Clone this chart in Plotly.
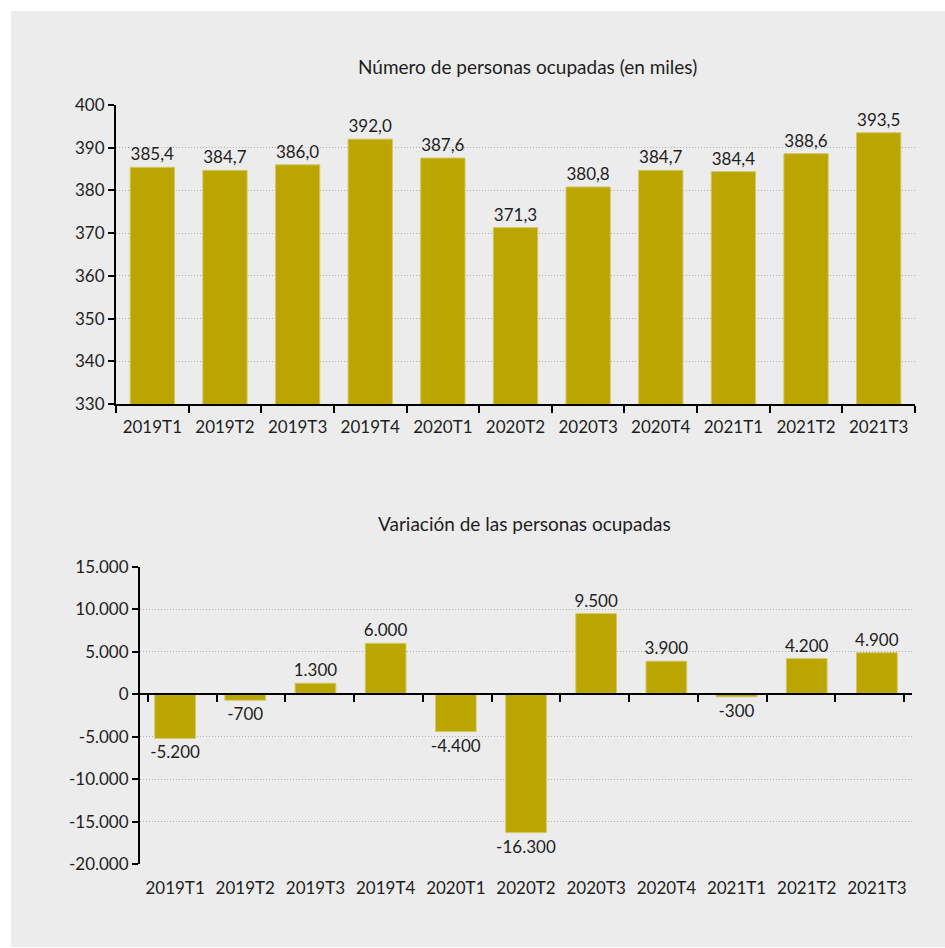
import plotly.graph_objects as go

# Quarterly data
quarters = ["2019T1", "2019T2", "2019T3", "2019T4", "2020T1", "2020T2",
            "2020T3", "2020T4", "2021T1", "2021T2", "2021T3"]
employed_thousands = [385.4, 384.7, 386.0, 392.0, 387.6, 371.3,
                      380.8, 384.7, 384.4, 388.6, 393.5]
employed_change = [-5200, -700, 1300, 6000, -4400, -16300,
                   9500, 3900, -300, 4200, 4900]

top_ticks = [330, 340, 350, 360, 370, 380, 390, 400]
bottom_ticks = [-20000, -15000, -10000, -5000, 0, 5000, 10000, 15000]

title_top = "Número de personas ocupadas (en miles)"
title_bottom = "Variación de las personas ocupadas"

BAR = "#bba500"
BAR_EDGE = "#d3c766"
BG = "#ececec"
INK = "#1e1e1e"
GRID = "#b0b0b0"
FONT = "Lato"

W, H = 945, 948


def es_decimal(v):
    return f"{v:.1f}".replace(".", ",")


def es_thousands(v):
    return f"{v:,.0f}".replace(",", ".")


def px_x(p):
    return p / W


def px_y(p):
    return 1 - p / H


top_dom_x = [px_x(116), px_x(915)]
top_dom_y = [px_y(404), px_y(105)]
bot_dom_x = [px_x(140), px_x(912)]
bot_dom_y = [px_y(864), px_y(567)]

bot_range = [-20000, 15000]
zero_pos = bot_dom_y[0] + (0 - bot_range[0]) / (bot_range[1] - bot_range[0]) * (bot_dom_y[1] - bot_dom_y[0])

label_font = dict(family=FONT, size=17, color=INK)
tick_font = dict(family=FONT, size=17, color=INK)
title_font = dict(family=FONT, size=19, color=INK)

fig = go.Figure()

fig.add_trace(go.Bar(
    x=quarters, y=employed_thousands, xaxis="x", yaxis="y",
    width=0.61, marker=dict(color=BAR, line=dict(color=BAR_EDGE, width=1)),
    text=[es_decimal(v) for v in employed_thousands],
    textposition="outside", cliponaxis=False, constraintext="none",
    textfont=label_font,
    hoverinfo="skip", showlegend=False,
))

fig.add_trace(go.Bar(
    x=quarters, y=employed_change, xaxis="x2", yaxis="y2",
    width=0.58, marker=dict(color=BAR, line=dict(color=BAR_EDGE, width=1)),
    text=[es_thousands(v) for v in employed_change],
    textposition="outside", cliponaxis=False, constraintext="none",
    textfont=label_font,
    hoverinfo="skip", showlegend=False,
))

# invisible helper so the zero-level category axis gets its ticks
fig.add_trace(go.Scatter(
    x=quarters, y=employed_change, xaxis="x3", yaxis="y2",
    mode="markers", marker=dict(opacity=0), hoverinfo="skip", showlegend=False,
))

grid = dict(showgrid=True, gridcolor=GRID, gridwidth=1, griddash="1px,2px")

fig.update_layout(
    width=W, height=H,
    margin=dict(l=0, r=0, t=0, b=0, pad=0),
    paper_bgcolor="white",
    plot_bgcolor="rgba(0,0,0,0)",
    font=dict(family=FONT, color=INK),
    xaxis=dict(
        domain=top_dom_x, anchor="y", type="category", automargin=False,
        showline=True, linecolor="black", linewidth=2,
        ticks="outside", tickson="boundaries", ticklen=7, tickwidth=2, tickcolor="black",
        ticklabelstandoff=7,
        tickfont=tick_font, showgrid=False,
    ),
    yaxis=dict(
        domain=top_dom_y, anchor="x", range=[330, 400], automargin=False,
        tickvals=top_ticks, ticktext=[str(v) for v in top_ticks],
        showline=True, linecolor="black", linewidth=2,
        ticks="outside", ticklen=6, tickwidth=2, tickcolor="black",
        tickfont=tick_font, zeroline=False, **grid,
    ),
    xaxis2=dict(
        domain=bot_dom_x, anchor="y2", type="category", automargin=False,
        showline=False, ticks="outside", ticklen=7, tickcolor="rgba(0,0,0,0)",
        ticklabelstandoff=2,
        tickfont=tick_font, showgrid=False,
    ),
    xaxis3=dict(
        domain=bot_dom_x, overlaying="x2", anchor="free", position=zero_pos,
        type="category", side="bottom", automargin=False,
        showline=True, linecolor="black", linewidth=2,
        ticks="outside", tickson="boundaries", ticklen=7, tickwidth=2, tickcolor="black",
        showticklabels=False, showgrid=False,
    ),
    yaxis2=dict(
        domain=bot_dom_y, anchor="x2", range=bot_range, automargin=False,
        tickvals=bottom_ticks, ticktext=[es_thousands(v) for v in bottom_ticks],
        showline=True, linecolor="black", linewidth=2,
        ticks="outside", ticklen=6, tickwidth=2, tickcolor="black",
        tickfont=tick_font, zeroline=False, **grid,
    ),
    shapes=[dict(
        type="rect", xref="paper", yref="paper",
        x0=px_x(11), x1=1, y0=px_y(947), y1=px_y(11),
        fillcolor=BG, line=dict(width=0), layer="below",
    )],
    annotations=[
        dict(text=title_top, xref="paper", yref="paper",
             x=px_x(527), y=px_y(67), xanchor="center", yanchor="middle",
             showarrow=False, font=title_font),
        dict(text=title_bottom, xref="paper", yref="paper",
             x=px_x(524), y=px_y(523), xanchor="center", yanchor="middle",
             showarrow=False, font=title_font),
    ],
)

fig.write_html("out.html")
